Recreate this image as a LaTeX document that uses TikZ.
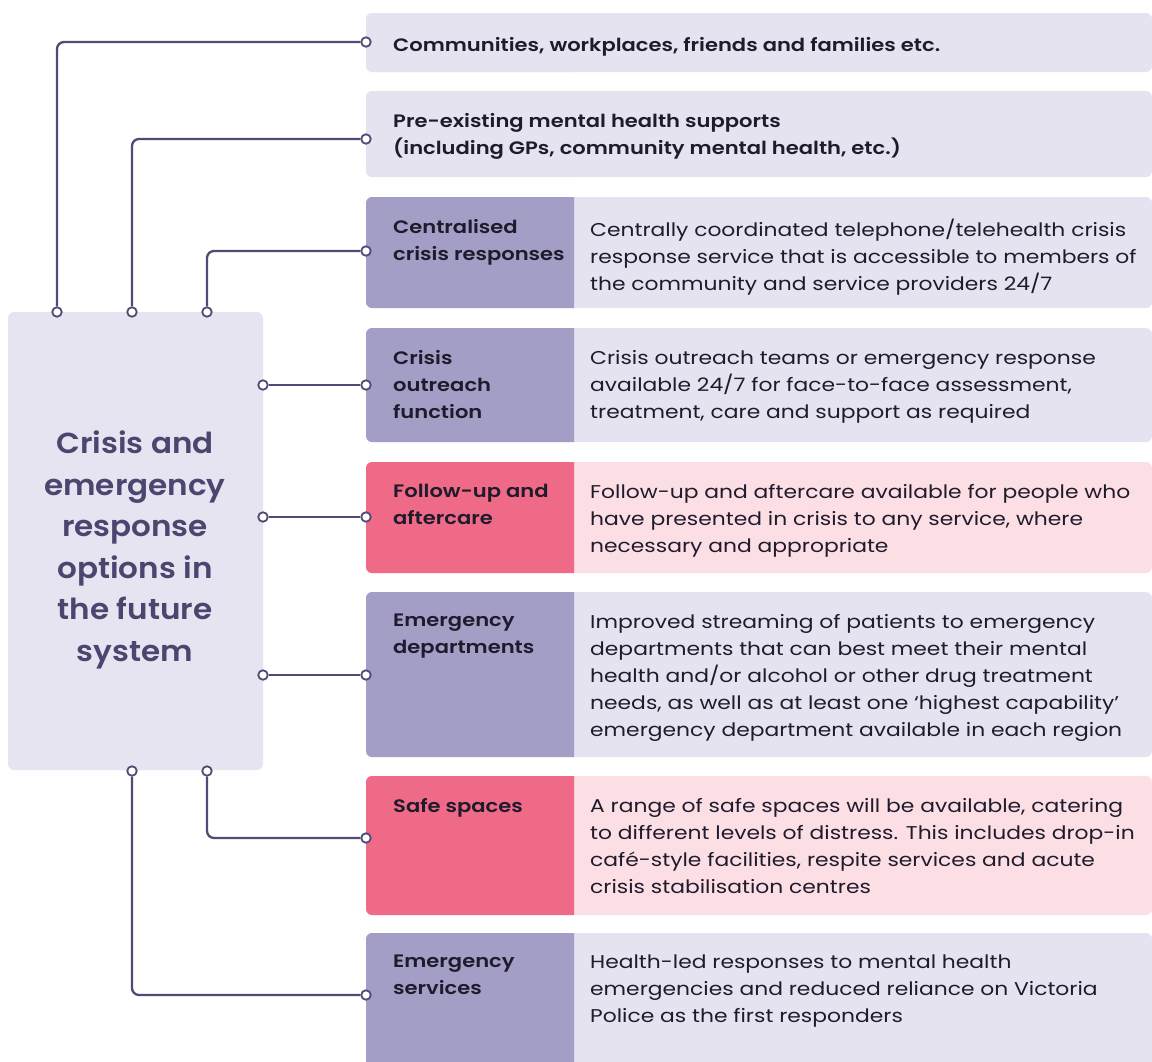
\documentclass[tikz,border=0pt]{standalone}
\usepackage{fontspec}
\setmainfont{Poppins}
\newfontfamily\descfont[FakeStretch=1.18]{Poppins}
\newfontfamily\labfont[FakeStretch=1.17,BoldFont={Poppins SemiBold}]{Poppins}
\newfontfamily\centrefont[FakeStretch=1.07,BoldFont={Poppins SemiBold}]{Poppins}
\definecolor{panelbg}{HTML}{E5E3EF}
\definecolor{labpurple}{HTML}{A29EC5}
\definecolor{pinklab}{HTML}{EF6A86}
\definecolor{pinkdesc}{HTML}{FCDFE4}
\definecolor{centralbg}{HTML}{E6E4F0}
\definecolor{linkcol}{HTML}{4E4B74}
\definecolor{ink}{HTML}{1F1B2D}
\definecolor{centraltext}{HTML}{4A4670}
\newcommand\rowpanel[4]{% top, bottom, label colour, description colour
  \fill[#4, rounded corners=6pt] (366,#1) rectangle (1152,#2);
  \begin{scope}
    \clip (366,#1) rectangle (574,#2);
    \fill[#3, rounded corners=6pt] (366,#1) rectangle (1152,#2);
  \end{scope}}
\begin{document}
\begin{tikzpicture}[x=1pt,y=-1pt,
  labtext/.style={anchor=north west, inner sep=0pt, align=left, text=ink,
    font=\labfont\bfseries\fontsize{18}{27}\selectfont},
  desctext/.style={anchor=north west, inner sep=0pt, align=left, text=ink,
    font=\descfont\fontsize{18.5}{27}\selectfont},
  port/.style={circle, draw=linkcol, fill=white, line width=1.8pt,
    minimum size=9.5pt, inner sep=0pt},
  link/.style={draw=linkcol, line width=2.3pt, rounded corners=7pt}]
\useasboundingbox (0,0) rectangle (1152,1061);

% central box
\fill[centralbg, rounded corners=6pt] (8,312) rectangle (263,770);
\node[align=center, text=centraltext, inner sep=0pt,
  font=\centrefont\bfseries\fontsize{29}{41.6}\selectfont] (centre) at (135,550)
  {Crisis and\\emergency\\response\\options in\\the future\\system};

% row panels
\rowpanel{13}{72}{panelbg}{panelbg}
\rowpanel{91}{177}{panelbg}{panelbg}
\rowpanel{197}{308}{labpurple}{panelbg}
\rowpanel{328}{442}{labpurple}{panelbg}
\rowpanel{462}{573}{pinklab}{pinkdesc}
\rowpanel{592}{757}{labpurple}{panelbg}
\rowpanel{776}{915}{pinklab}{pinkdesc}
\rowpanel{933}{1075}{labpurple}{panelbg}

% row texts
\node[labtext] (r1) at (393,37) {Communities, workplaces, friends and families etc.};
\node[labtext] (r2) at (393,113) {Pre-existing mental health supports\\(including GPs, community mental health, etc.)};
\node[labtext] (l3) at (393,219) {Centralised\\crisis responses};
\node[desctext] (d3) at (590,219) {Centrally coordinated telephone/telehealth crisis\\response service that is accessible to members of\\the community and service providers 24/7};
\node[labtext] (l4) at (393,350) {Crisis\\outreach\\function};
\node[desctext] (d4) at (590,350) {Crisis outreach teams or emergency response\\available 24/7 for face-to-face assessment,\\treatment, care and support as required};
\node[labtext] (l5) at (393,484) {Follow-up and\\aftercare};
\node[desctext] (d5) at (590,484) {Follow-up and aftercare available for people who\\have presented in crisis to any service, where\\necessary and appropriate};
\node[labtext] (l6) at (393,614) {Emergency\\departments};
\node[desctext] (d6) at (590,614) {Improved streaming of patients to emergency\\departments that can best meet their mental\\health and/or alcohol or other drug treatment\\needs, as well as at least one ‘highest capability’\\emergency department available in each region};
\node[labtext] (l7) at (393,798) {Safe spaces};
\node[desctext] (d7) at (590,798) {A range of safe spaces will be available, catering\\to different levels of distress. This includes drop-in\\café-style facilities, respite services and acute\\crisis stabilisation centres};
\node[labtext] (l8) at (393,955) {Emergency\\services};
\node[desctext] (d8) at (590,955) {Health-led responses to mental health\\emergencies and reduced reliance on Victoria\\Police as the first responders};

% ports on the central box
\node[port] (t1) at (57,312) {};
\node[port] (t2) at (132,312) {};
\node[port] (t3) at (207,312) {};
\node[port] (s4) at (263,385) {};
\node[port] (s5) at (263,517) {};
\node[port] (s6) at (263,675) {};
\node[port] (b8) at (132,771) {};
\node[port] (b7) at (207,771) {};

% ports on the row panels
\node[port] (p1) at (366,42) {};
\node[port] (p2) at (366,139) {};
\node[port] (p3) at (366,251) {};
\node[port] (p4) at (366,385) {};
\node[port] (p5) at (366,517) {};
\node[port] (p6) at (366,675) {};
\node[port] (p7) at (366,838) {};
\node[port] (p8) at (366,995) {};

% connectors
\draw[link] (t1.north) |- (p1.west);
\draw[link] (t2.north) |- (p2.west);
\draw[link] (t3.north) |- (p3.west);
\draw[link] (s4.east) -- (p4.west);
\draw[link] (s5.east) -- (p5.west);
\draw[link] (s6.east) -- (p6.west);
\draw[link] (b7.south) |- (p7.west);
\draw[link] (b8.south) |- (p8.west);
\end{tikzpicture}
\end{document}
